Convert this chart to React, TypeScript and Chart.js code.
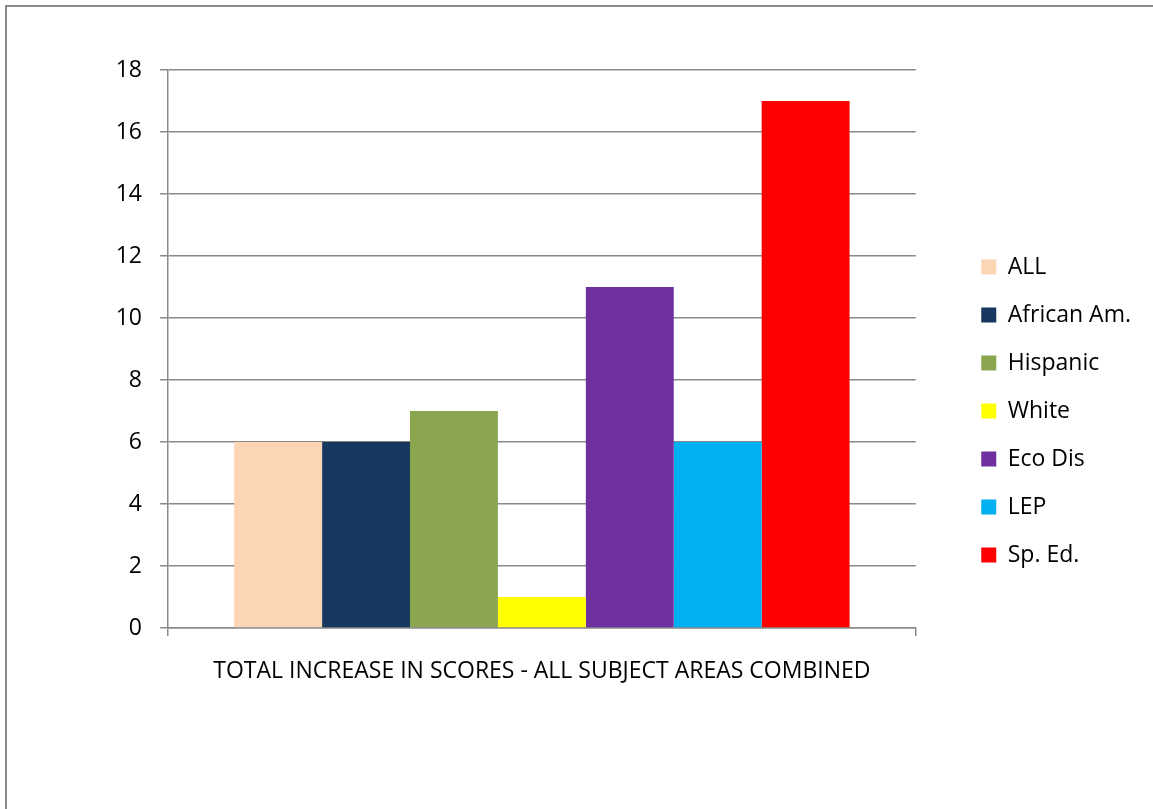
import React, { useEffect, useRef } from "react";
import { Chart, registerables } from "chart.js";

Chart.register(...registerables);

const categories = ["TOTAL INCREASE IN SCORES - ALL SUBJECT AREAS COMBINED"];
const seriesNames = ["ALL", "African Am.", "Hispanic", "White", "Eco Dis", "LEP", "Sp. Ed."];
const seriesValues = [6, 6, 7, 1, 11, 6, 17];
const seriesColors = ["#FCD5B4", "#17375E", "#8AA64E", "#FFFF00", "#7030A0", "#00B0F0", "#FF0000"];
const yMin = 0;
const yMax = 18;
const yStep = 2;

const FONT = "'Open Sans', 'Noto Sans', sans-serif";
const GRID = "#8a8a8a";

export default function App() {
  const ref = useRef<HTMLCanvasElement | null>(null);

  useEffect(() => {
    document.body.style.margin = "0";
    if (!ref.current) return;
    const chart = new Chart(ref.current, {
      type: "bar",
      data: {
        labels: categories,
        datasets: seriesNames.map((name, i) => ({
          label: name,
          data: [seriesValues[i]],
          backgroundColor: seriesColors[i],
          borderWidth: 0,
          categoryPercentage: 0.823,
          barPercentage: 1,
          yAxisID: "y",
        })),
      },
      options: {
        animation: false,
        responsive: false,
        layout: { padding: { top: 70, bottom: 57, left: 0, right: 12 } },
        plugins: {
          tooltip: { enabled: false },
          legend: {
            position: "right",
            labels: {
              boxWidth: 15,
              boxHeight: 15,
              padding: 25,
              color: "#000",
              font: { family: FONT, size: 23 },
            },
          },
        },
        scales: {
          x: {
            grid: {
              offset: true,
              drawOnChartArea: false,
              tickLength: 8,
              color: GRID,
              lineWidth: 1.5,
            },
            border: { display: true, color: GRID, width: 1.5 },
            ticks: { color: "#000", font: { family: FONT, size: 23 }, padding: 22 },
            afterFit: (s: any) => {
              s.height = 124;
            },
          },
          y: {
            min: yMin,
            max: yMax,
            ticks: {
              stepSize: yStep,
              color: "#000",
              font: { family: FONT, size: 23 },
              padding: 18,
            },
            grid: { color: GRID, lineWidth: 1.5, tickLength: 8 },
            border: { display: true, color: GRID, width: 1.5 },
            afterFit: (s: any) => {
              s.width = 168;
            },
          },
          yR: {
            axis: "y",
            position: "right",
            display: true,
            grid: { display: false },
            border: { display: false },
            ticks: { display: false },
            afterFit: (s: any) => {
              s.width = 40.5;
            },
          },
        },
      },
    } as any);
    return () => chart.destroy();
  }, []);

  return (
    <div style={{ position: "relative", width: 1153, height: 809, overflow: "hidden", background: "#fff" }}>
      <div
        style={{
          position: "absolute",
          left: 5,
          top: 5,
          width: 1300,
          height: 1000,
          borderLeft: "2px solid #8a8a8a",
          borderTop: "2px solid #8a8a8a",
        }}
      />
      <canvas ref={ref} width={1153} height={809} style={{ position: "absolute", left: 0, top: 0, width: 1153, height: 809 }} />
    </div>
  );
}
